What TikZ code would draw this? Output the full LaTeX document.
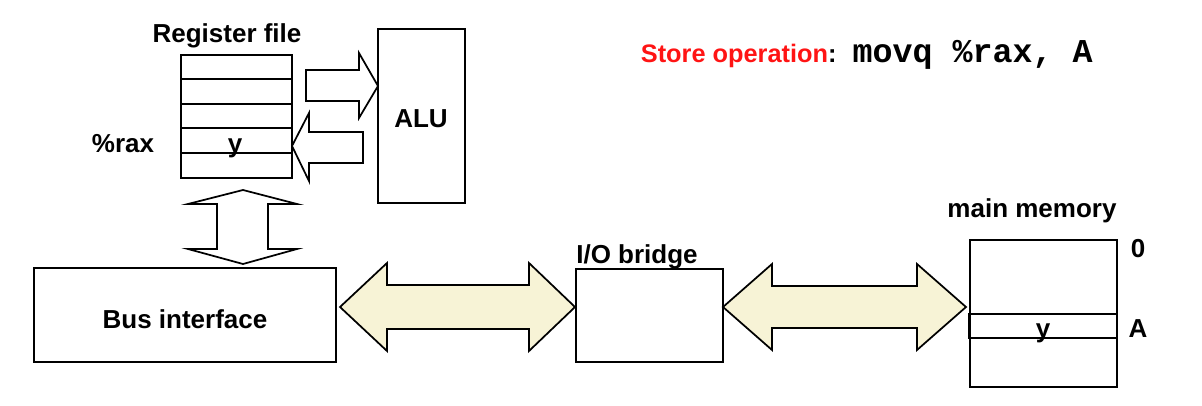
\documentclass[tikz,border=0pt]{standalone}
\usepackage{fontspec}
\setmainfont{Liberation Sans}
\setmonofont{Liberation Mono}
\usetikzlibrary{fit}
\definecolor{busyellow}{RGB}{247,243,214}
\definecolor{titlered}{RGB}{255,20,20}
\begin{document}
\begin{tikzpicture}[x=0.75pt,y=-0.75pt,line width=1.3pt,line join=miter,
  lbl/.style={font=\fontsize{19.5}{20}\selectfont\bfseries,inner sep=0,anchor=base},
  boxfit/.style={draw,inner sep=0},
  blockarrow/.style={draw,fill=white},
  busarrow/.style={draw,fill=busyellow}]
\useasboundingbox (0,0) rectangle (1202,406);
% register file
\node[boxfit,fit={(181,55)(292,178)}] (reg) {};
\foreach \y in {79,104,128,153} \draw (reg.west |- 0,\y) -- (reg.east |- 0,\y);
\node[lbl] (regl) at (227,43) {Register file};
\node[lbl] (rax) at (123,152) {\%rax};
\node[lbl] (ry) at (235,152) {y};
% ALU
\node[boxfit,fit={(378,29)(465,203)}] (alu) {};
\node[lbl] (alul) at (421,128) {ALU};
% arrows reg <-> ALU
\draw[blockarrow] (306,70) -- (359,70) -- (359,53) -- (378,86) -- (359,118) -- (359,101) -- (306,101) -- cycle;
\draw[blockarrow] (292,146) -- (309,113) -- (309,132) -- (363,132) -- (363,163) -- (309,163) -- (309,181) -- cycle;
% vertical double arrow
\draw[blockarrow] (243,190) -- (297,204) -- (268,204) -- (268,249) -- (297,249) -- (243,264) -- (188,249) -- (217,249) -- (217,204) -- (188,204) -- cycle;
% bus interface
\node[boxfit,fit={(34,268)(336,362)}] (bus) {};
\node[lbl] (busl) at (185,328) {Bus interface};
% I/O bridge
\node[boxfit,fit={(576,269)(723,362)}] (bridge) {};
\node[lbl] (bridgel) at (637,263) {I/O bridge};
% yellow bus arrows
\draw[busarrow] (340,307) -- (387,263) -- (387,285) -- (529,285) -- (529,263) -- (575,307) -- (529,351) -- (529,329) -- (387,329) -- (387,351) -- cycle;
\draw[busarrow] (723,307) -- (772,264) -- (772,286) -- (917,286) -- (917,264) -- (966,307) -- (917,350) -- (917,328) -- (772,328) -- (772,350) -- cycle;
% main memory
\node[boxfit,fit={(970,240)(1117,387)}] (mem) {};
\node[boxfit,fit={(969,314)(1117,338)}] (memrow) {};
\node[lbl] (memy) at (1043,337) {y};
\node[lbl] (meml) at (1032,217) {main memory};
\node[lbl] (zero) at (1138,257) {0};
\node[lbl] (addrA) at (1138,337) {A};
% title
\node[inner sep=0,anchor=base west] (title) at (640,63) {\fontsize{19}{20}\selectfont\bfseries\textcolor{titlered}{Store operation}:\hspace{12pt}\fontsize{25}{25}\selectfont\ttfamily movq \%rax, A};
\end{tikzpicture}
\end{document}
